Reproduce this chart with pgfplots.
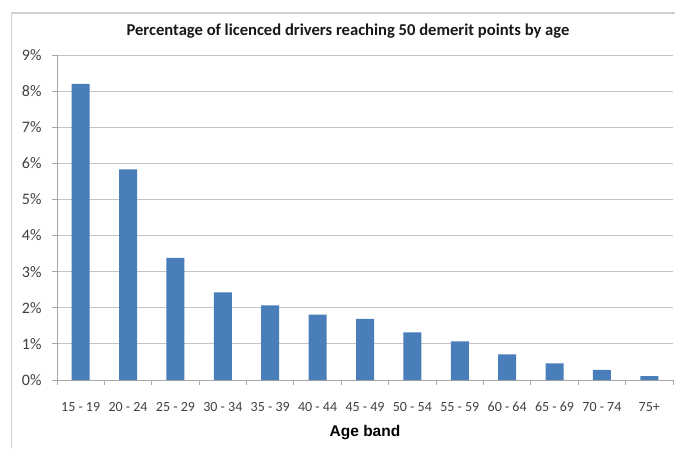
\documentclass[border=0pt]{standalone}
\usepackage{fontspec}
\setmainfont{Carlito}
\newfontfamily\labelfont{Liberation Sans}
\usepackage{pgfplots}
\pgfplotsset{compat=1.18}

\definecolor{barblue}{HTML}{4A7EBB}
\definecolor{gridgray}{HTML}{C4C4C4}
\definecolor{axisgray}{HTML}{A6A6A6}
\definecolor{textgray}{HTML}{404040}
\definecolor{framegray}{HTML}{D0D0D0}

\begin{document}
\begin{tikzpicture}
    % picture frame: 1pt per reference pixel
    \path[use as bounding box] (-57pt,-68pt) rectangle (618pt,380pt);
    \draw[framegray, line width=1.2pt] (-45.5pt,-68pt) -- (-45.5pt,367pt) -- (618pt,367pt);

    \begin{axis}[
            at={(0pt,0pt)},
            anchor=south west,
            scale only axis,
            width=616pt,
            height=325pt,
            ybar,
            bar width=18pt,
            bar shift=0pt,
            xmin=-0.5, xmax=12.5,
            ymin=0, ymax=9,
            xtick={0,...,12},
            xticklabels={15 - 19, 20 - 24, 25 - 29, 30 - 34, 35 - 39, 40 - 44,
                    45 - 49, 50 - 54, 55 - 59, 60 - 64, 65 - 69, 70 - 74, 75+},
            minor xtick={-0.5,0.5,...,12.5},
            ytick={0,...,9},
            yticklabels={0\%,1\%,2\%,3\%,4\%,5\%,6\%,7\%,8\%,9\%},
            axis x line*=bottom,
            axis y line*=left,
            axis line style={axisgray, line width=0.9pt, -},
            tick align=outside,
            major tick length=5pt,
            minor tick length=5pt,
            major x tick style={draw=none},
            minor x tick style={axisgray, line width=0.9pt},
            ytick style={axisgray, line width=0.9pt},
            ymajorgrids,
            grid style={gridgray, line width=0.9pt},
            tick label style={text=textgray},
            xticklabel style={font=\fontsize{14}{16}\selectfont, anchor=base, yshift=-26pt},
            yticklabel style={font=\fontsize{16}{18}\selectfont, anchor=east, xshift=-7pt},
            xlabel={\labelfont\bfseries Age band},
            xlabel style={at={(axis description cs:0.5,0)}, anchor=base,
                    yshift=-56pt, font=\fontsize{15.5}{18}\selectfont, text=black},
            clip=false,
        ]
        \addplot[fill=barblue, draw=none] coordinates {
                (0, 8.20) (1, 5.83) (2, 3.38) (3, 2.43) (4, 2.07) (5, 1.81)
                (6, 1.69) (7, 1.32) (8, 1.07) (9, 0.71) (10, 0.46) (11, 0.28)
                (12, 0.11)
            };
    \end{axis}

    \node[font=\bfseries\fontsize{16.6}{19}\selectfont, text=black!90] at (291pt,349pt)
        {Percentage of licenced drivers reaching 50 demerit points by age};
\end{tikzpicture}
\end{document}
